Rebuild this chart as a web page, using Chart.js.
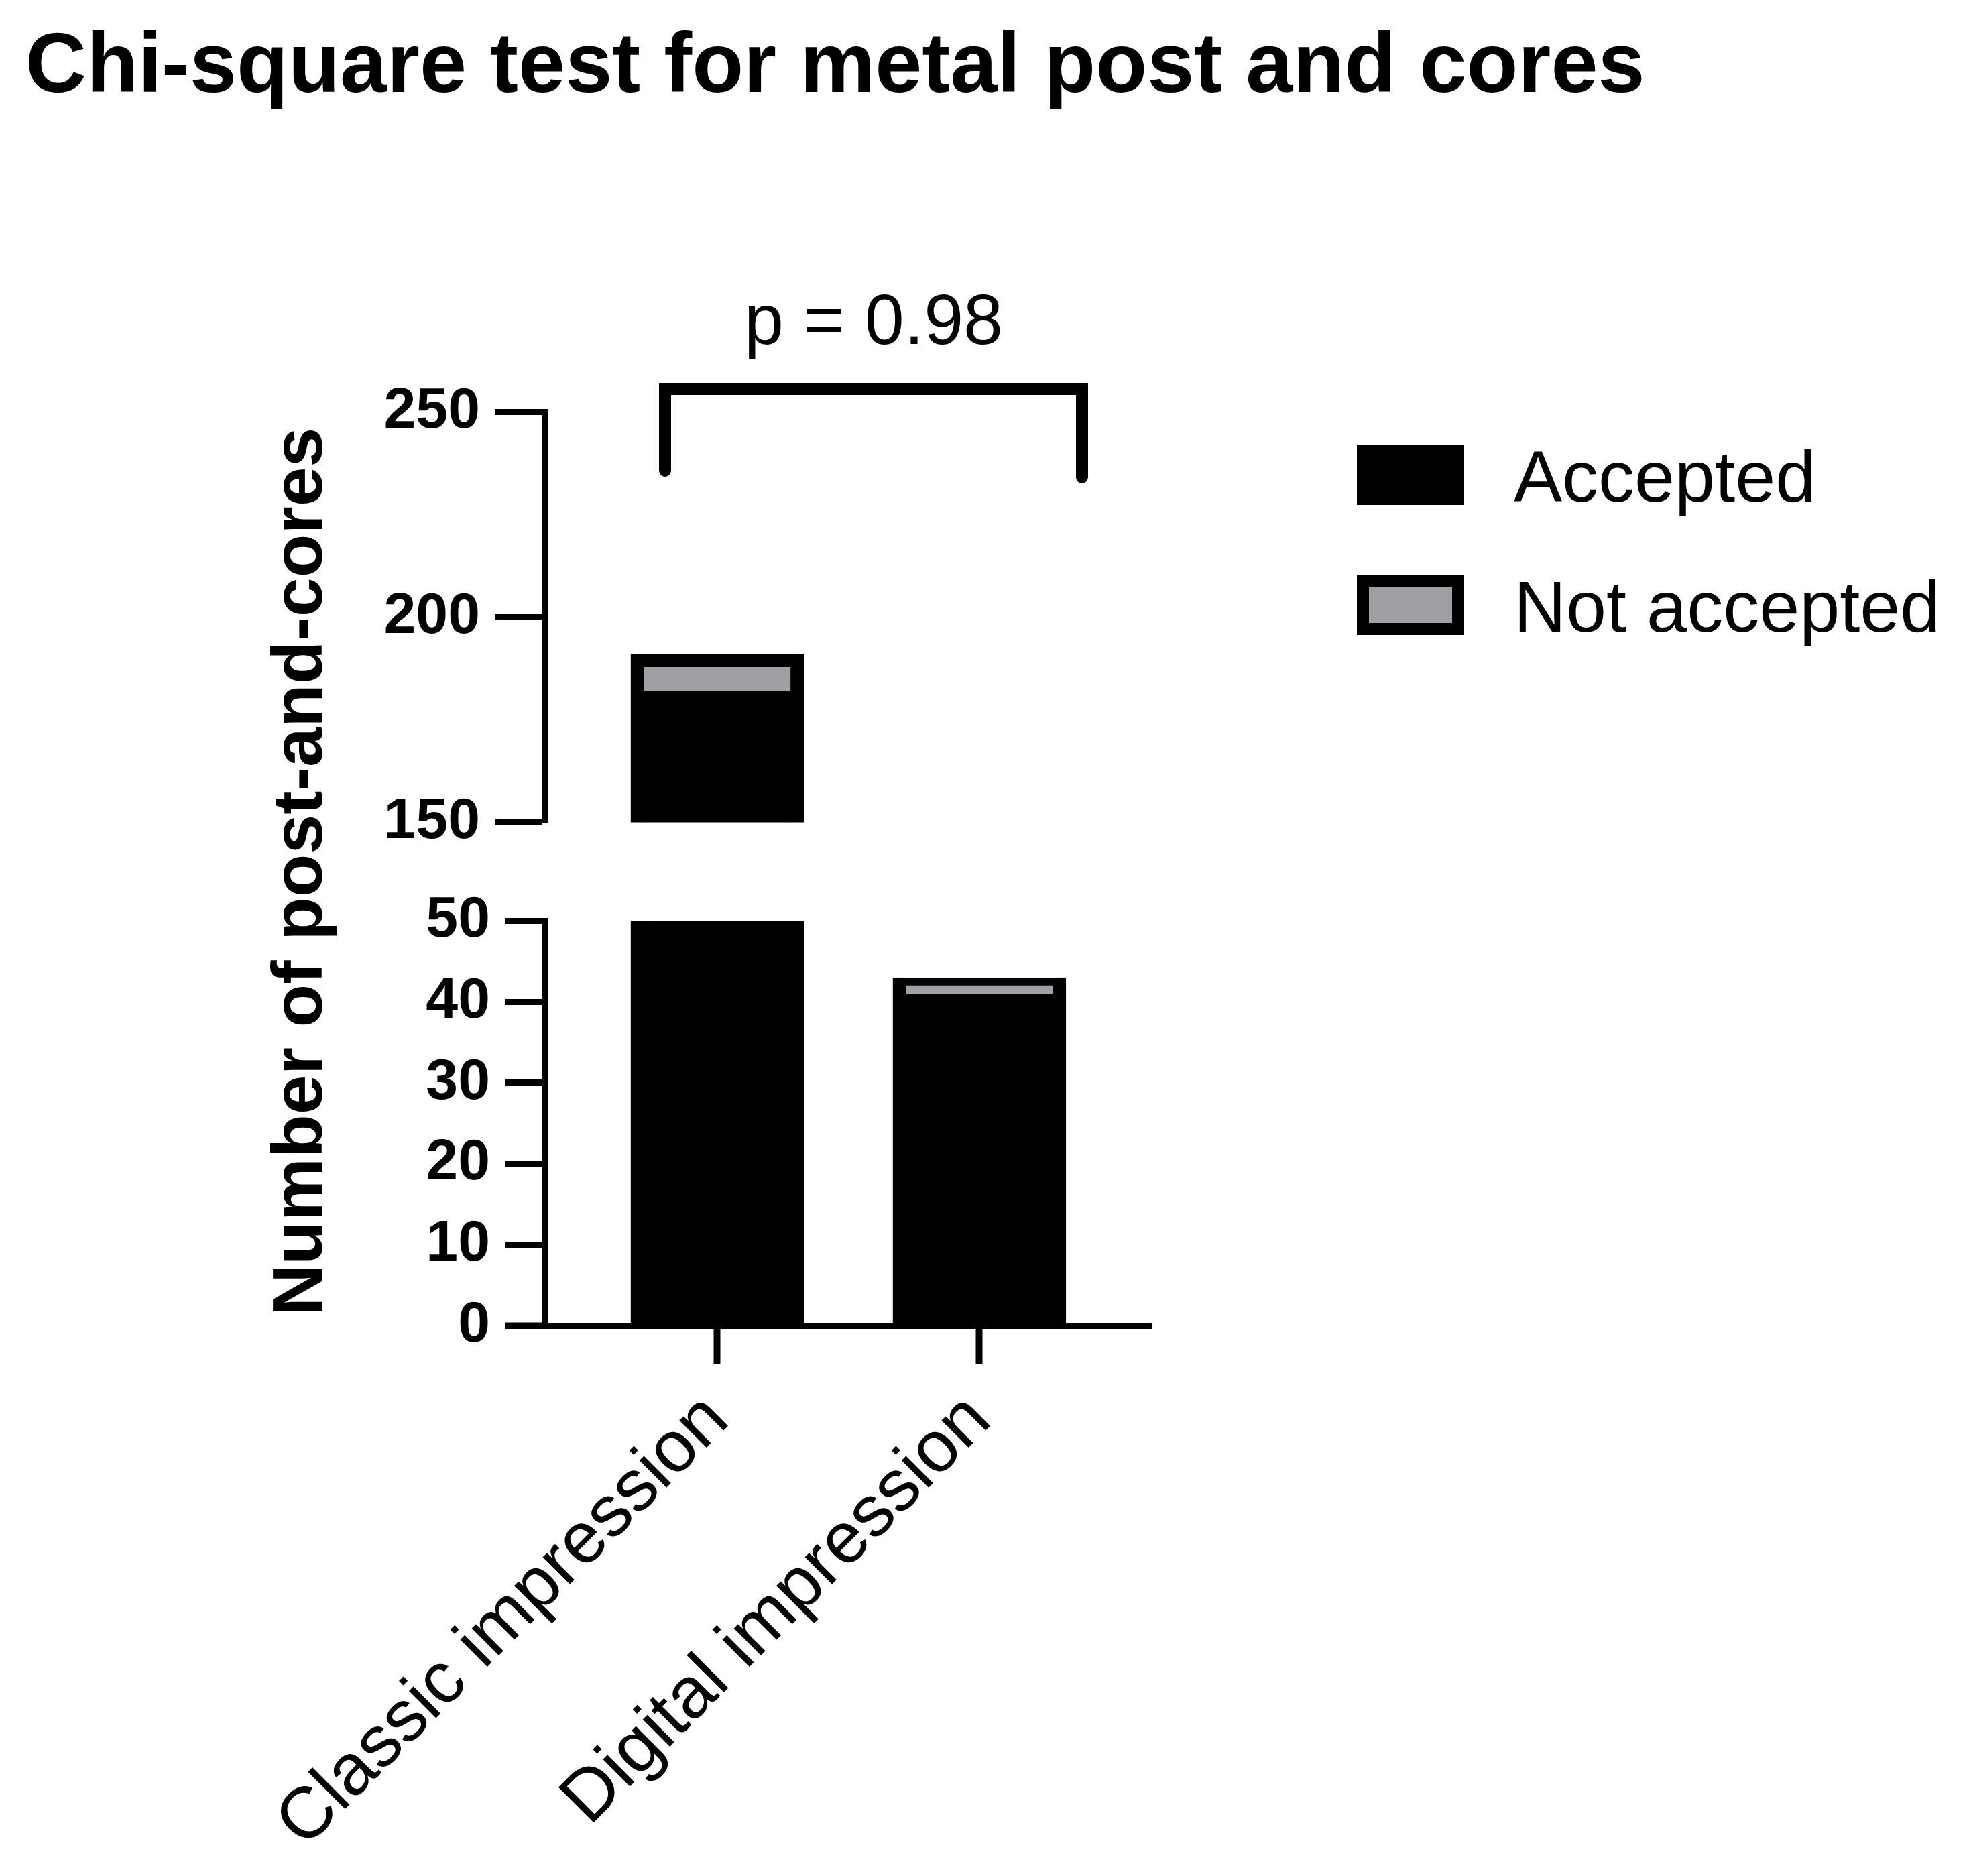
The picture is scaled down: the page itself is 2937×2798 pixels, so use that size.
<!DOCTYPE html>
<html><head><meta charset="utf-8">
<script src="https://cdn.jsdelivr.net/npm/chart.js@4.4.0/dist/chart.umd.min.js"></script>
<style>
body{margin:0;width:2937px;height:2798px;background:#fff;position:relative;overflow:hidden;font-family:"Liberation Sans",Arial,sans-serif}
canvas{position:absolute;left:0}
.t{position:absolute;white-space:nowrap;color:#000}
.box{position:absolute;box-sizing:border-box;border:18px solid #000}
</style></head><body>
<div class="t" style="left:38px;top:24px;font-size:126px;font-weight:bold;line-height:140px">Chi-square test for metal post and cores</div>
<div class="t" style="left:443px;top:1300px;font-size:106px;font-weight:bold;transform:translate(-50%,-50%) rotate(-90deg)">Number of post-and-cores</div>
<div class="t" style="left:1303px;top:476px;font-size:106px;transform:translate(-50%,-50%)">p = 0.98</div>
<div class="box" style="left:2024px;top:663px;width:160px;height:90px;background:#000"></div>
<div class="box" style="left:2024px;top:857px;width:160px;height:90px;background:#a0a0a4"></div>
<div class="t" style="left:2258px;top:710px;font-size:108px;transform:translateY(-50%)">Accepted</div>
<div class="t" style="left:2258px;top:904px;font-size:108px;transform:translateY(-50%)">Not accepted</div>
<canvas id="top" width="2937" height="1300" style="top:0;width:2937px;height:1300px"></canvas>
<canvas id="bot" width="2937" height="1498" style="top:1300px;width:2937px;height:1498px"></canvas>
<script>
const categories = ["Classic impression", "Digital impression"];
const accepted = [182, 41];
const notAccepted = [9, 2];
const upperTicks = [150, 200, 250];
const lowerTicks = [0, 10, 20, 30, 40, 50];

const pts = (arr) => arr.map((v, i) => ({x: i, y: v}));
function datasets() {
  return [
    {label: "Accepted", data: pts(accepted), backgroundColor: "#000", borderColor: "#000", borderWidth: 20, barThickness: 258, clip: 0, stack: "s"},
    {label: "Not accepted", data: pts(notAccepted), backgroundColor: "#a0a0a4", borderColor: "#000", borderWidth: 20, barThickness: 258, clip: 0, stack: "s"}
  ];
}
const font = {family: "Liberation Sans", size: 86, weight: "bold"};
const xBase = {type: "linear", min: -0.657, max: 1.655, stacked: true, offset: false};

const bracket = {id: "bracket", afterDraw(c) {
  const g = c.ctx; g.save(); g.strokeStyle = "#000"; g.lineWidth = 18; g.lineCap = "round"; g.lineJoin = "miter";
  g.beginPath(); g.moveTo(992, 702); g.lineTo(992, 580); g.lineTo(1614, 580); g.lineTo(1614, 712); g.stroke(); g.restore();
}};
new Chart(document.getElementById("top"), {
  type: "bar",
  data: {datasets: datasets()},
  options: {
    responsive: false, devicePixelRatio: 1, animation: false,
    layout: {padding: {top: 614, bottom: 63, left: 0, right: 1220}},
    plugins: {legend: {display: false}, tooltip: {enabled: false}},
    scales: {
      x: Object.assign({display: false}, xBase),
      y: {min: 150, max: 250, stacked: true, afterBuildTicks: s => { s.ticks = upperTicks.map(v => ({value: v})); },
          afterFit: s => { s.width = 813; },
          grid: {drawOnChartArea: false, tickLength: 75, tickWidth: 9, color: "#000"},
          border: {display: true, color: "#000", width: 9},
          ticks: {font, color: "#000", padding: 22}}
    }
  },
  plugins: [bracket]
});
const xExt = {id: "xext", afterDraw(c) {
  const g = c.ctx, y = c.chartArea.bottom; g.save(); g.strokeStyle = "#000"; g.lineWidth = 9;
  g.beginPath(); g.moveTo(753, y); g.lineTo(c.chartArea.left, y); g.stroke(); g.restore();
}};
new Chart(document.getElementById("bot"), {
  type: "bar",
  data: {datasets: datasets()},
  options: {
    responsive: false, devicePixelRatio: 1, animation: false,
    layout: {padding: {top: 54, bottom: 0, left: 0, right: 1220}},
    plugins: {legend: {display: false}, tooltip: {enabled: false}},
    scales: {
      x: Object.assign({
        afterBuildTicks: s => { s.ticks = categories.map((c, i) => ({value: i})); },
        afterFit: s => { s.height = 821; },
        grid: {drawOnChartArea: false, tickLength: 58, tickWidth: 10, color: "#000", offset: false},
        border: {display: true, color: "#000", width: 9},
        ticks: {font: {family: "Liberation Sans", size: 108}, color: "#000", maxRotation: 45, minRotation: 45, autoSkip: false, padding: 20,
                callback: v => categories[v]}
      }, xBase),
      y: {min: 0, max: 50, stacked: true, afterBuildTicks: s => { s.ticks = lowerTicks.map(v => ({value: v})); },
          afterFit: s => { s.width = 813; },
          grid: {drawOnChartArea: false, tickLength: 60, tickWidth: 9, color: "#000"},
          border: {display: true, color: "#000", width: 9},
          ticks: {font, color: "#000", padding: 22}}
    }
  },
  plugins: [xExt]
});
</script></body></html>
